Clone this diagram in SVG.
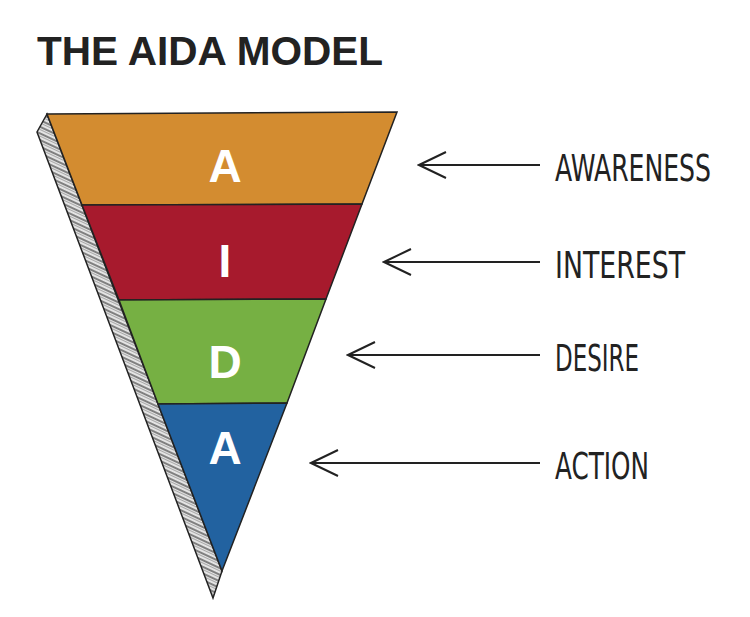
<svg xmlns="http://www.w3.org/2000/svg" width="750" height="617" viewBox="0 0 750 617">
<defs>
<pattern id="hatch" width="6" height="6" patternUnits="userSpaceOnUse" patternTransform="rotate(25)">
<rect width="6" height="6" fill="#e4e4e4"/>
<line x1="0" y1="2" x2="6" y2="2" stroke="#555" stroke-width="1.4"/>
<line x1="0" y1="4.5" x2="6" y2="4.5" stroke="#999" stroke-width="0.8"/>
</pattern>
<marker id="ah" markerWidth="30" markerHeight="30" refX="28" refY="15" orient="auto" markerUnits="userSpaceOnUse">
<path d="M1,2 L28,15 L1,28" fill="none" stroke="#222" stroke-width="2"/>
</marker>
<style>
.lay{stroke:#222;stroke-width:1.5}
.big{font-family:"Liberation Sans",Arial,sans-serif;font-weight:bold;font-size:46px;fill:#fff;text-anchor:middle}
.lbl{font-family:"DejaVu Sans Condensed","DejaVu Sans",sans-serif;font-size:37px;fill:#222;font-stretch:condensed}
.arr{stroke:#222;stroke-width:2;fill:none}
</style>
</defs>
<rect width="750" height="617" fill="#fff"/>
<text x="37" y="65" font-family="Liberation Sans,Arial,sans-serif" font-weight="900" font-size="40" fill="#222" textLength="346" lengthAdjust="spacingAndGlyphs">THE AIDA MODEL</text>
<g id="funnel">
<polygon points="47,114 37,132 213,598 222,571" fill="url(#hatch)" stroke="#222" stroke-width="1.5"/>
<g id="awareness-layer"><polygon class="lay" points="47,114 397,112 362,204 82,205" fill="#d38c30"/><text class="big" x="225" y="182">A</text></g>
<g id="interest-layer"><polygon class="lay" points="82,205 362,204 326,299 119,300" fill="#a71a2d"/><text class="big" x="225" y="277">I</text></g>
<g id="desire-layer"><polygon class="lay" points="119,300 326,299 287,403 158,404" fill="#76b043"/><text class="big" x="225" y="378">D</text></g>
<g id="action-layer"><polygon class="lay" points="158,404 287,403 222,571" fill="#2262a0"/><text class="big" x="225" y="464">A</text></g>
</g>
<g id="connectors">
<line class="arr" x1="540" y1="165" x2="419" y2="165" marker-end="url(#ah)"/>
<line class="arr" x1="540" y1="262" x2="384" y2="262" marker-end="url(#ah)"/>
<line class="arr" x1="540" y1="355" x2="348" y2="355" marker-end="url(#ah)"/>
<line class="arr" x1="540" y1="463" x2="311" y2="463" marker-end="url(#ah)"/>
</g>
<g id="labels">
<text class="lbl" x="555" y="181" textLength="156" lengthAdjust="spacingAndGlyphs">AWARENESS</text>
<text class="lbl" x="555" y="278" textLength="130" lengthAdjust="spacingAndGlyphs">INTEREST</text>
<text class="lbl" x="555" y="371" textLength="84" lengthAdjust="spacingAndGlyphs">DESIRE</text>
<text class="lbl" x="555" y="479" textLength="94" lengthAdjust="spacingAndGlyphs">ACTION</text>
</g>
</svg>
